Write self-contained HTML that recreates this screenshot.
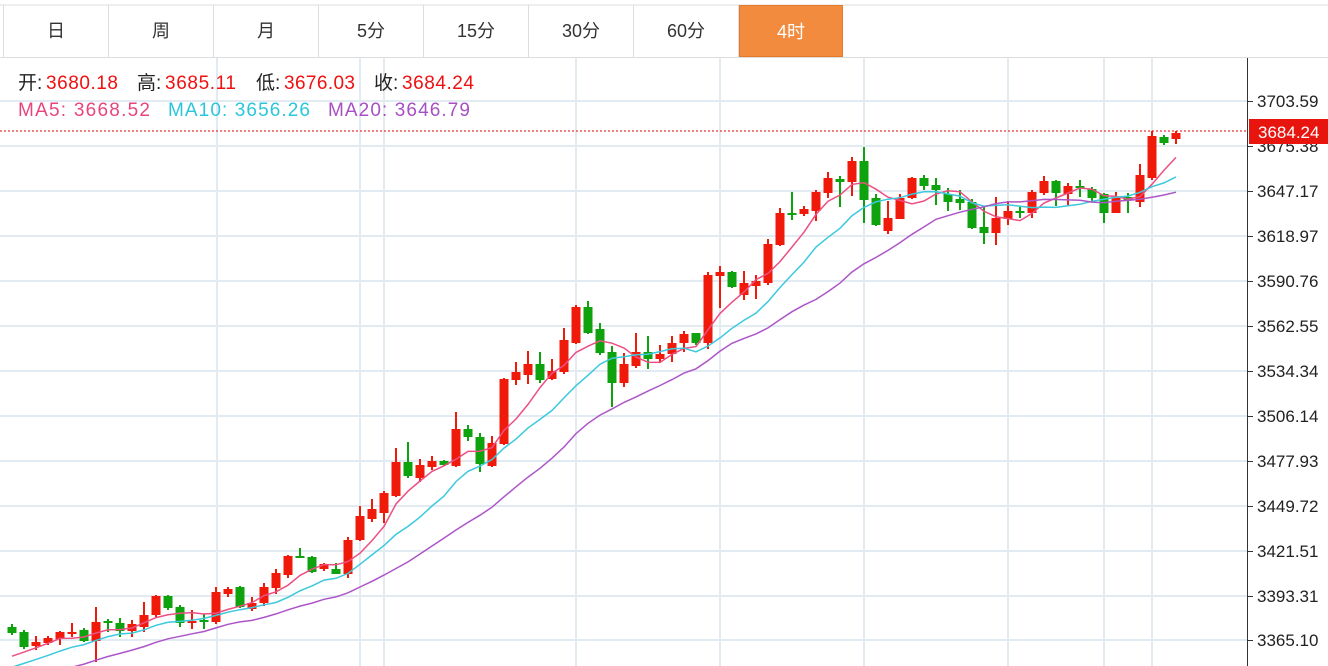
<!DOCTYPE html>
<html><head><meta charset="utf-8"><style>
body{margin:0;width:1328px;height:666px;overflow:hidden;background:#fff;font-family:"Liberation Sans","Noto Sans CJK SC",sans-serif}
svg{position:absolute;left:0;top:0}
.tab{position:absolute;top:5px;height:52px;line-height:52px;text-align:center;font-size:18px;color:#333;border-right:1px solid #ddd;box-sizing:border-box}
</style></head><body>
<svg id="s" width="1328" height="666" xmlns="http://www.w3.org/2000/svg">
<g stroke="#e3ebf2" stroke-width="2" id="grid"></g>
<line x1="0" y1="5" x2="1328" y2="5" stroke="#ddd"/>
<line x1="0" y1="57.5" x2="1328" y2="57.5" stroke="#ddd"/>
<line x1="3.5" y1="5" x2="3.5" y2="57" stroke="#ddd"/>
<g id="c"></g>
<g id="ma" fill="none" stroke-width="1.5"></g>
<line x1="0" y1="131" x2="1248" y2="131" stroke="#e00" stroke-dasharray="2,2"/>
<line x1="1247.5" y1="58" x2="1247.5" y2="666" stroke="#333"/>
<g font-size="17" fill="#222" font-family="Liberation Sans,sans-serif">
<text x="1257" y="107">3703.59</text><text x="1257" y="152">3675.38</text><text x="1257" y="197">3647.17</text><text x="1257" y="242">3618.97</text><text x="1257" y="287">3590.76</text><text x="1257" y="332">3562.55</text><text x="1257" y="377">3534.34</text><text x="1257" y="422">3506.14</text><text x="1257" y="467">3477.93</text><text x="1257" y="512">3449.72</text><text x="1257" y="557">3421.51</text><text x="1257" y="602">3393.31</text><text x="1257" y="646">3365.10</text>
</g>
<g stroke="#333" id="ticks"></g>
<rect x="1249" y="119" width="79" height="25" fill="#e8150f"/>
<text x="1258" y="138" font-size="17" fill="#fff" font-family="Liberation Sans,sans-serif">3684.24</text>
<g font-size="19">
<text x="18" y="89" fill="#222">开:</text><text x="46" y="89" fill="#f01010" textLength="72">3680.18</text>
<text x="137" y="89" fill="#222">高:</text><text x="165" y="89" fill="#f01010" textLength="71">3685.11</text>
<text x="256" y="89" fill="#222">低:</text><text x="284" y="89" fill="#f01010" textLength="71">3676.03</text>
<text x="374" y="89" fill="#222">收:</text><text x="402" y="89" fill="#f01010" textLength="72">3684.24</text>
<text x="18" y="116" fill="#e9457c" textLength="132">MA5: 3668.52</text>
<text x="168" y="116" fill="#2ac6dc" textLength="142">MA10: 3656.26</text>
<text x="328" y="116" fill="#a84fc3" textLength="142">MA20: 3646.79</text>
</g>
</svg>
<div class="tab" style="left:4px;width:105px">日</div>
<div class="tab" style="left:109px;width:105px">周</div>
<div class="tab" style="left:214px;width:105px">月</div>
<div class="tab" style="left:319px;width:105px">5分</div>
<div class="tab" style="left:424px;width:105px">15分</div>
<div class="tab" style="left:529px;width:105px">30分</div>
<div class="tab" style="left:634px;width:105px">60分</div>
<div class="tab" style="left:739px;width:104px;background:#f28b3d;color:#fff;border:1px solid #e57a2a">4时</div>
<script>
var NS="http://www.w3.org/2000/svg";
function el(p,t,a){var e=document.createElementNS(NS,t);for(var k in a)e.setAttribute(k,a[k]);p.appendChild(e);return e;}
var g=document.getElementById('grid');
[101,146,191,236,281,326,371,416,461,506,551,596,640].forEach(function(y){el(g,'line',{x1:0,x2:1247,y1:y,y2:y});});
[217,360,384,576,720,864,1008,1104,1152].forEach(function(x){el(g,'line',{x1:x,x2:x,y1:58,y2:666});});
var tk=document.getElementById('ticks');
[101,146,191,236,281,326,371,416,461,506,551,596,640].forEach(function(y){el(tk,'line',{x1:1247,x2:1253,y1:y+.5,y2:y+.5});});
var D=[
['g',627,633,624,635],['g',632,647,630,649],['r',642,646,636,650],['r',638,643,636,645],['r',632,639,631,645],['r',632,634,623,637],['g',630,641,628,642],['r',622,641,607,662],['g',621,622,619,632],['g',623,631,618,637],
['r',624,631,620,637],['r',615,627,602,632],['r',596,615,595,617],['g',596,608,595,610],['g',607,623,605,627],['r',621,623,610,629],['g',620,622,614,629],['r',592,622,587,624],['r',589,594,587,597],['g',587,607,586,608],
['r',603,609,597,611],['r',587,603,583,606],['r',573,588,569,594],['r',556,575,555,578],['g',556,558,548,558],['g',557,572,556,573],['r',564,569,563,571],['g',569,574,563,574],['r',540,574,537,578],['r',516,540,506,541],
['r',509,519,499,522],['r',493,513,491,523],['r',462,496,448,497],['g',462,476,442,478],['r',465,478,459,482],['r',461,467,456,470],['g',461,465,460,466],['r',429,466,412,467],['g',429,437,425,441],['g',437,464,433,472],
['r',443,466,436,467],['r',379,444,378,445],['r',372,380,362,385],['r',364,375,351,384],['g',364,380,352,383],['r',371,379,359,380],['r',340,372,328,374],['r',307,343,305,344],['g',307,333,301,334],['g',329,353,323,355],
['g',352,383,346,407],['r',364,383,353,387],['r',352,366,333,368],['g',352,359,336,369],['r',354,359,345,363],['r',343,354,336,362],['r',334,343,331,352],['g',333,343,333,345],['r',275,343,272,349],['r',272,276,266,308],
['g',272,287,271,288],['r',283,295,271,300],['r',281,286,275,299],['r',244,283,239,285],['r',213,245,208,246],['g',213,214,192,220],['r',209,214,206,216],['r',192,211,190,221],['r',178,193,172,198],['g',179,182,176,207],
['r',161,182,157,196],['g',161,200,147,223],['g',198,225,194,226],['r',218,231,201,234],['r',198,219,194,219],['r',178,198,177,199],['g',178,186,175,190],['g',185,190,178,205],['g',194,202,188,211],['g',199,203,190,210],
['g',202,228,199,229],['g',227,233,206,244],['r',218,233,197,245],['r',211,219,201,225],['g',211,213,206,218],['r',192,213,190,218],['r',181,193,176,195],['g',181,193,180,206],['r',186,194,183,205],['g',186,188,180,197],
['g',189,198,187,201],['g',194,213,193,223],['r',197,213,192,213],['g',197,200,193,213],['r',175,202,164,207],['r',136,178,131,180],['g',137,143,135,145],['r',133,139,131,144]];
var c=document.getElementById('c'),closes=[];
for(var i=0;i<20;i++)closes.push(725-i*3.6);
D.forEach(function(d,i){var x=12+12*i,col=d[0]=='r'?'#f01a0a':'#0ea30e';
el(c,'line',{x1:x,x2:x,y1:d[3],y2:d[4],stroke:col,'stroke-width':2});
el(c,'rect',{x:x-4.5,y:d[1],width:9,height:Math.max(2,d[2]-d[1]),fill:col});
closes.push(d[0]=='r'?d[1]:d[2]);});
var ma=document.getElementById('ma');
[[5,'#ec4f84'],[10,'#3cc9de'],[20,'#ad55c8']].forEach(function(m){var pts=[];
for(var i=0;i<D.length;i++){var k=i+20,s=0;for(var j=0;j<m[0];j++)s+=closes[k-j];pts.push((12+12*i)+','+(s/m[0]).toFixed(1));}
el(ma,'polyline',{points:pts.join(' '),stroke:m[1]});});
</script>
</body></html>
